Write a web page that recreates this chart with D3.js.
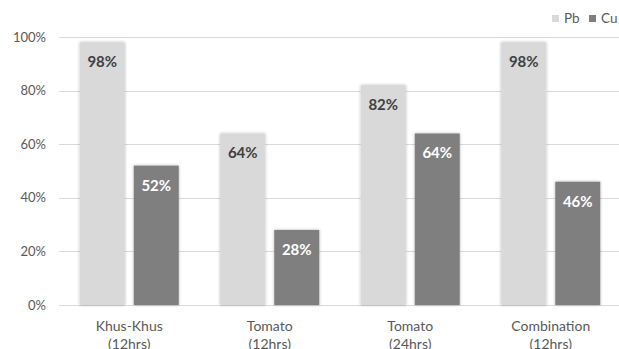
<!doctype html>
<html>
    <head>
        <meta charset="utf-8">
        <title>Pb Cu removal</title>
        <script src="https://d3js.org/d3.v7.min.js"></script>
        <style type="text/css">
            body { margin:0; background:#fff; }
            text { font-family:Lato, "Open Sans", sans-serif; }
        </style>
    </head>
    <body>
      <svg></svg>
      <script type="text/javascript">

        let w = 619,
            h = 349;

        let categories = [['Khus-Khus', '(12hrs)'], ['Tomato', '(12hrs)'], ['Tomato', '(24hrs)'], ['Combination', '(12hrs)']];
        let series = ['Pb', 'Cu'];
        let pbValues = [98, 64, 82, 98];
        let cuValues = [52, 28, 64, 46];
        let yTicks = [0, 20, 40, 60, 80, 100];
        let colors = { Pb: '#d9d9d9', Cu: '#7f7f7f' };
        let labelColors = { Pb: '#404040', Cu: '#ffffff' };

        let rows = categories.map(function(c, i) {
            return { cat: i, Pb: pbValues[i], Cu: cuValues[i] };
        });

        let margin = { left: 59, right: -2, top: 37, bottom: 44 };

        let svg = d3.select('svg')
                    .attr('width', w)
                    .attr('height', h);

        let defs = svg.append('defs');
        let filter = defs.append('filter')
                         .attr('id', 'shadow')
                         .attr('x', '-20%').attr('y', '-20%')
                         .attr('width', '140%').attr('height', '140%');
        filter.append('feDropShadow')
              .attr('dx', 0).attr('dy', 0)
              .attr('stdDeviation', 1.5)
              .attr('flood-color', '#000')
              .attr('flood-opacity', 0.3);

        let x0 = d3.scaleBand()
                   .domain(d3.range(categories.length))
                   .range([margin.left, w - margin.right])
                   .padding(0);
        let x1 = d3.scaleBand()
                   .domain(series)
                   .range([0, x0.bandwidth()])
                   .paddingInner(0.167)
                   .paddingOuter(0.384);
        let y = d3.scaleLinear()
                  .domain([0, 100])
                  .range([h - margin.bottom, margin.top]);

        // gridlines
        svg.append('g')
           .selectAll('line')
           .data(yTicks)
           .enter()
           .append('line')
           .attr('x1', margin.left)
           .attr('x2', w - margin.right)
           .attr('y1', function(d) { return Math.round(y(d)) + 0.5; })
           .attr('y2', function(d) { return Math.round(y(d)) + 0.5; })
           .attr('stroke', '#d9d9d9')
           .attr('stroke-width', 1);

        // y tick labels
        svg.append('g')
           .selectAll('text')
           .data(yTicks)
           .enter()
           .append('text')
           .attr('x', 46)
           .attr('y', function(d) { return y(d) + 4.5; })
           .attr('text-anchor', 'end')
           .attr('font-size', '13px')
           .attr('fill', '#595959')
           .text(function(d) { return d + '%'; });

        // bars
        let groups = svg.append('g')
                        .selectAll('g')
                        .data(rows)
                        .enter()
                        .append('g')
                        .attr('transform', function(d) { return 'translate(' + x0(d.cat) + ',0)'; });

        groups.selectAll('rect')
              .data(function(d) { return series.map(function(s) { return { key: s, value: d[s] }; }); })
              .enter()
              .append('rect')
              .attr('x', function(d) { return x1(d.key); })
              .attr('y', function(d) { return y(d.value); })
              .attr('width', x1.bandwidth())
              .attr('height', function(d) { return y(0) - y(d.value); })
              .attr('fill', function(d) { return colors[d.key]; })
              .attr('filter', 'url(#shadow)');

        groups.selectAll('text')
              .data(function(d) { return series.map(function(s) { return { key: s, value: d[s] }; }); })
              .enter()
              .append('text')
              .attr('x', function(d) { return x1(d.key) + x1.bandwidth() / 2; })
              .attr('y', function(d) { return y(d.value) + 25; })
              .attr('text-anchor', 'middle')
              .attr('font-size', '15px')
              .attr('font-weight', 'bold')
              .attr('fill', function(d) { return labelColors[d.key]; })
              .text(function(d) { return d.value + '%'; });

        // category labels (second line runs off the bottom, as in the original)
        let catLabels = svg.append('g')
                           .selectAll('text')
                           .data(categories)
                           .enter()
                           .append('text')
                           .attr('x', function(d, i) { return x0(i) + x0.bandwidth() / 2; })
                           .attr('y', 331)
                           .attr('text-anchor', 'middle')
                           .attr('font-size', '14px')
                           .attr('fill', '#595959');
        catLabels.selectAll('tspan')
                 .data(function(d) { return d; })
                 .enter()
                 .append('tspan')
                 .attr('x', function() { return d3.select(this.parentNode).attr('x'); })
                 .attr('dy', function(d, i) { return i === 0 ? 0 : 18; })
                 .text(function(d) { return d; });

        // legend
        let legend = svg.append('g')
                        .selectAll('g')
                        .data(series)
                        .enter()
                        .append('g')
                        .attr('transform', function(d, i) { return 'translate(' + (552 + i * 37) + ',15)'; });
        legend.append('rect')
              .attr('width', 7)
              .attr('height', 7)
              .attr('fill', function(d) { return colors[d]; });
        legend.append('text')
              .attr('x', 12)
              .attr('y', 8)
              .attr('font-size', '13.5px')
              .attr('fill', '#595959')
              .text(function(d) { return d; });
        </script>
    </body>
</html>
